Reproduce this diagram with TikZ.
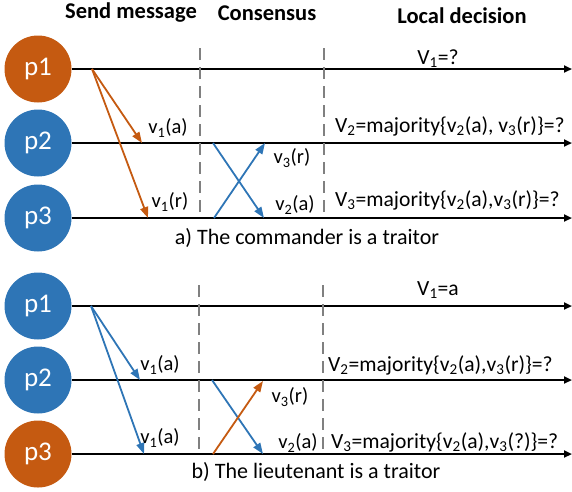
\documentclass[tikz,border=0pt]{standalone}
\usepackage{fontspec}
\setmainfont{Carlito}
\usetikzlibrary{arrows.meta}
\definecolor{orng}{HTML}{C55A11}
\definecolor{blu}{HTML}{2E75B6}
\begin{document}
\begin{tikzpicture}[x=1pt,y=-1pt,
 proc/.style={circle,minimum size=67pt,inner sep=0pt,text=white,font=\fontsize{27}{29}\selectfont},
 tl/.style={line width=2pt,-{Triangle[length=8pt,width=7pt]}},
 msg/.style={line width=1.8pt,-{Triangle[length=11pt,width=8pt]}},
 dsh/.style={draw=gray,line width=1.5pt,dash pattern=on 12pt off 7pt},
 hdr/.style={font=\bfseries\fontsize{22.5}{24}\selectfont},
 lbl/.style={font=\fontsize{20.5}{23}\selectfont, inner sep=0pt},
 dec/.style={font=\fontsize{21.6}{23}\selectfont, inner sep=0pt},
 captxt/.style={font=\fontsize{22}{24}\selectfont, inner sep=0pt},
]
\useasboundingbox (0,0) rectangle (572,491);
% headers
\node[hdr] (h1) at (131,13) {Send message};
\node[hdr] (h2) at (267,13) {Consensus};
\node[hdr] (h3) at (462,16) {Local decision};
% ---------- panel a ----------
\node[proc,fill=orng] (a1) at (38,69) {p1};
\node[proc,fill=blu] (a2) at (38,143) {p2};
\node[proc,fill=blu] (a3) at (38,218) {p3};
\coordinate (a1e) at (572,69);
\coordinate (a2e) at (572,143);
\coordinate (a3e) at (572,218);
\draw[tl] (a1) -- (a1e);
\draw[tl] (a2) -- (a2e);
\draw[tl] (a3) -- (a3e);
\coordinate (ad1t) at (200,48); \coordinate (ad1b) at (200,218);
\coordinate (ad2t) at (324,48); \coordinate (ad2b) at (324,218);
\draw[dsh] (ad1t) -- (ad1b);
\draw[dsh] (ad2t) -- (ad2b);
\coordinate (as) at (92,69);
\coordinate (a2m) at (142,143);
\coordinate (a3m) at (148,218);
\draw[msg,orng] (as) -- (a2m);
\draw[msg,orng] (as) -- (a3m);
\coordinate (a2c) at (213,143); \coordinate (a3x) at (264,218);
\coordinate (a3c) at (214,218); \coordinate (a2x) at (265,143);
\draw[msg,blu] (a2c) -- (a3x);
\draw[msg,blu] (a3c) -- (a2x);
\node[lbl] (al1) at (168,128) {v\textsubscript{1}(a)};
\node[lbl] (al2) at (170,202) {v\textsubscript{1}(r)};
\node[lbl] (al3) at (292,158) {v\textsubscript{3}(r)};
\node[lbl] (al4) at (295,205) {v\textsubscript{2}(a)};
\node[dec] (aV1) at (438,59) {V\textsubscript{1}=?};
\node[dec,anchor=west] (aV2) at (335,126) {V\textsubscript{2}=majority\{v\textsubscript{2}(a), v\textsubscript{3}(r)\}=?};
\node[dec,anchor=west] (aV3) at (335,200) {V\textsubscript{3}=majority\{v\textsubscript{2}(a),v\textsubscript{3}(r)\}=?};
\node[captxt] (acap) at (307,238) {a) The commander is a traitor};
% ---------- panel b ----------
\node[proc,fill=blu] (b1) at (38,306) {p1};
\node[proc,fill=blu] (b2) at (38,380) {p2};
\node[proc,fill=orng] (b3) at (38,454) {p3};
\coordinate (b1e) at (572,306);
\coordinate (b2e) at (572,380);
\coordinate (b3e) at (572,454);
\draw[tl] (b1) -- (b1e);
\draw[tl] (b2) -- (b2e);
\draw[tl] (b3) -- (b3e);
\coordinate (bd1t) at (199,285); \coordinate (bd1b) at (199,454);
\coordinate (bd2t) at (323,285); \coordinate (bd2b) at (323,454);
\draw[dsh] (bd1t) -- (bd1b);
\draw[dsh] (bd2t) -- (bd2b);
\coordinate (bs) at (91,306);
\coordinate (b2m) at (140,380);
\coordinate (b3m) at (144,454);
\draw[msg,blu] (bs) -- (b2m);
\draw[msg,blu] (bs) -- (b3m);
\coordinate (b2c) at (212,380); \coordinate (b3x) at (263,454);
\coordinate (b3c) at (213,454); \coordinate (b2x) at (263,381);
\draw[msg,blu] (b2c) -- (b3x);
\draw[msg,orng] (b3c) -- (b2x);
\node[lbl] (bl1) at (160,365) {v\textsubscript{1}(a)};
\node[lbl] (bl2) at (160,438) {v\textsubscript{1}(a)};
\node[lbl] (bl3) at (290,397) {v\textsubscript{3}(r)};
\node[lbl] (bl4) at (298,443) {v\textsubscript{2}(a)};
\node[dec] (bV1) at (438,290) {V\textsubscript{1}=a};
\node[dec,anchor=west] (bV2) at (328,365) {V\textsubscript{2}=majority\{v\textsubscript{2}(a),v\textsubscript{3}(r)\}=?};
\node[dec,anchor=west] (bV3) at (331,442) {V\textsubscript{3}=majority\{v\textsubscript{2}(a),v\textsubscript{3}(?)\}=?};
\node[captxt] (bcap) at (316,472) {b) The lieutenant is a traitor};
\end{tikzpicture}
\end{document}
